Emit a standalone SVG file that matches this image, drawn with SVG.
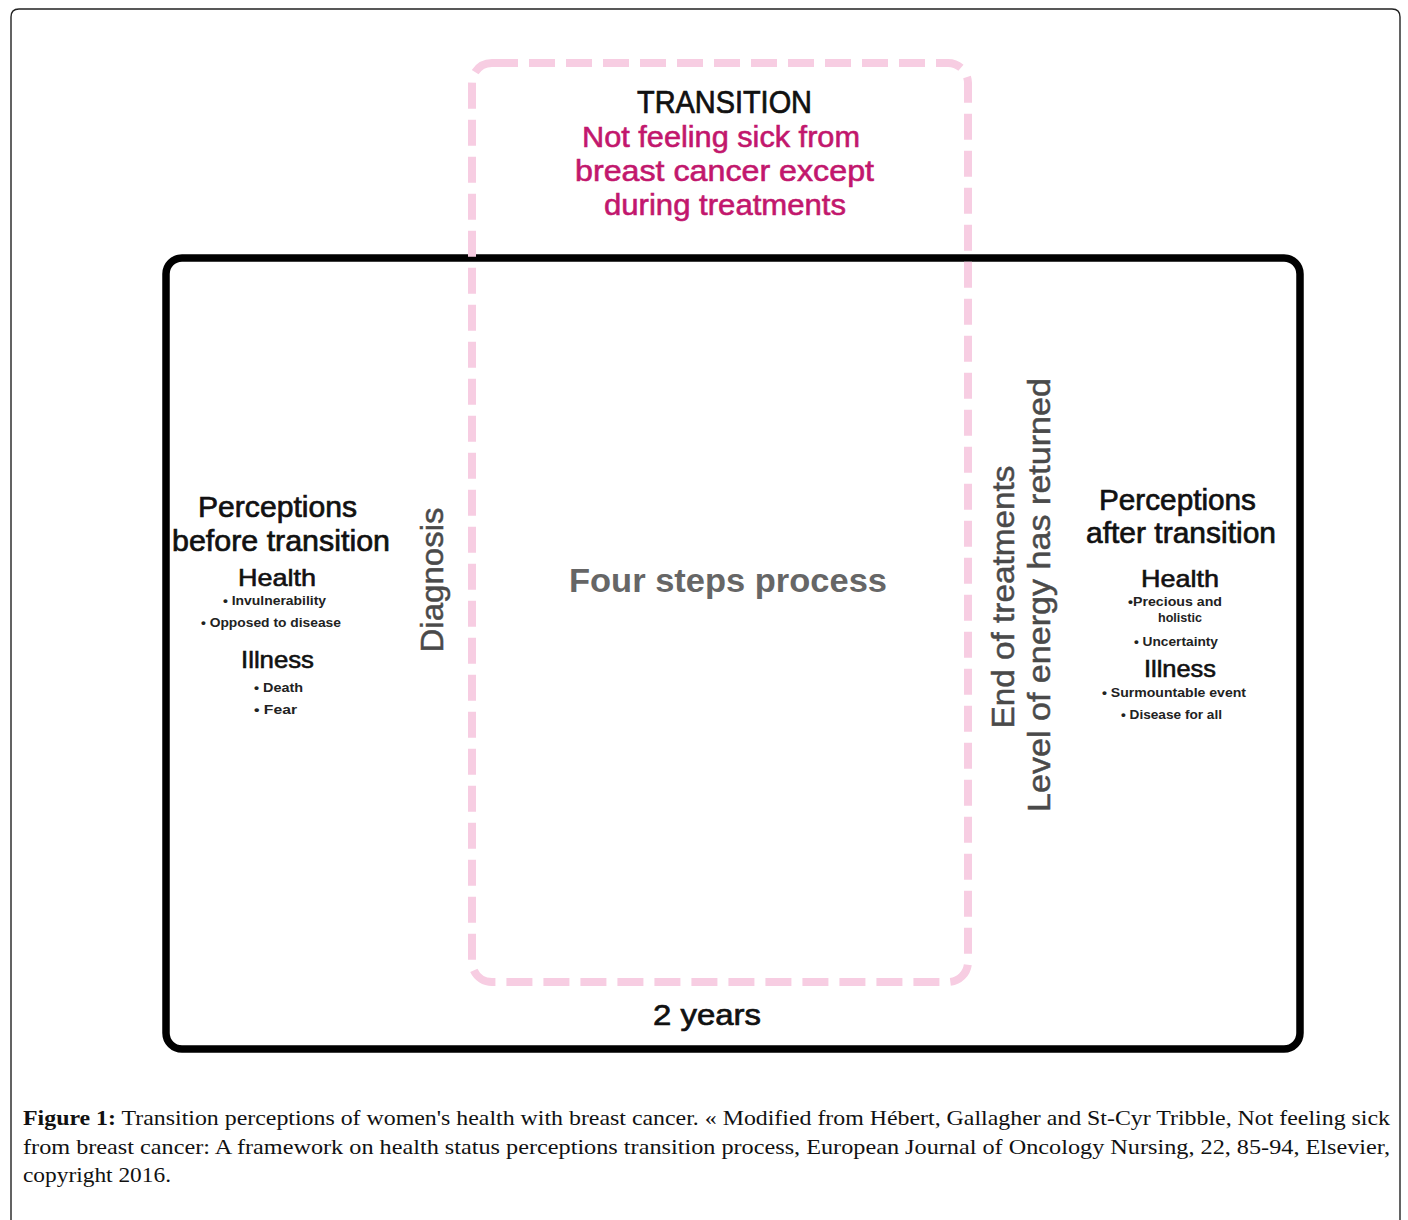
<svg xmlns="http://www.w3.org/2000/svg" width="1408" height="1220" viewBox="0 0 1408 1220">
  <style>
    .sans { font-family: "Liberation Sans", Arial, "DejaVu Sans", sans-serif; }
    .hd { font-size: 30px; fill: #111; stroke: #111; stroke-width: 0.7; text-anchor: middle; }
    .sub { font-size: 24px; fill: #111; stroke: #111; stroke-width: 0.6; text-anchor: middle; }
    .item { font-size: 12.5px; font-weight: bold; fill: #222; text-anchor: middle; }
    .pink { font-size: 30px; fill: #c2176d; stroke: #c2176d; stroke-width: 0.6; text-anchor: middle; }
    .vert { font-size: 32px; fill: #4a4a4a; stroke: #4a4a4a; stroke-width: 0.5; text-anchor: middle; }
    .cap { font-family: "Liberation Serif", "Times New Roman", serif; font-size: 21px; fill: #111; }
  </style>

  <rect width="1408" height="1220" fill="#ffffff"/>

  <!-- figure frame, open at the bottom -->
  <path d="M11,1225 V17 Q11,9 19,9 H1392 Q1400,9 1400,17 V1225" fill="none" stroke="#222" stroke-width="1.4"/>

  <!-- overall 2-year period box -->
  <g id="period">
    <rect x="166" y="258" width="1134" height="791" rx="16" fill="none" stroke="#000" stroke-width="7.5"/>
  </g>

  <!-- transition band, drawn above the period box -->
  <g id="transition">
    <rect x="472" y="63" width="496" height="919" rx="20" fill="none" stroke="#f7cde2" stroke-width="8" stroke-dasharray="26 11"/>
    <text class="sans" x="724.5" y="113" font-size="31" fill="#111" stroke="#111" stroke-width="0.7" text-anchor="middle" textLength="175" lengthAdjust="spacingAndGlyphs">TRANSITION</text>
    <text class="sans pink" x="721" y="147" textLength="278" lengthAdjust="spacingAndGlyphs">Not feeling sick from</text>
    <text class="sans pink" x="724.5" y="181" textLength="299" lengthAdjust="spacingAndGlyphs">breast cancer except</text>
    <text class="sans pink" x="725" y="215" textLength="242" lengthAdjust="spacingAndGlyphs">during treatments</text>
  </g>

  <g id="process">
    <text class="sans" x="728" y="592" font-size="34" font-weight="bold" fill="#666" text-anchor="middle" textLength="318" lengthAdjust="spacingAndGlyphs">Four steps process</text>
  </g>

  <g id="diagnosis">
    <text class="sans vert" transform="translate(443,580) rotate(-90)" x="0" y="0" textLength="145" lengthAdjust="spacingAndGlyphs">Diagnosis</text>
  </g>

  <g id="end-of-treatments">
    <text class="sans vert" transform="translate(1014,597) rotate(-90)" x="0" y="0" textLength="263" lengthAdjust="spacingAndGlyphs">End of treatments</text>
    <text class="sans vert" transform="translate(1050,595) rotate(-90)" x="0" y="0" textLength="434" lengthAdjust="spacingAndGlyphs">Level of energy has returned</text>
  </g>

  <g id="before">
    <text class="sans hd" x="277.5" y="517" textLength="159" lengthAdjust="spacingAndGlyphs">Perceptions</text>
    <text class="sans hd" x="281" y="551" textLength="218" lengthAdjust="spacingAndGlyphs">before transition</text>
    <text class="sans sub" x="277" y="586" textLength="78" lengthAdjust="spacingAndGlyphs">Health</text>
    <text class="sans item" x="274.5" y="605" textLength="103" lengthAdjust="spacingAndGlyphs">• Invulnerability</text>
    <text class="sans item" x="271" y="627" textLength="140" lengthAdjust="spacingAndGlyphs">• Opposed to disease</text>
    <text class="sans sub" x="277.5" y="668" textLength="73" lengthAdjust="spacingAndGlyphs">Illness</text>
    <text class="sans item" x="278.5" y="692" textLength="49" lengthAdjust="spacingAndGlyphs">• Death</text>
    <text class="sans item" x="275.5" y="714" textLength="43" lengthAdjust="spacingAndGlyphs">• Fear</text>
  </g>

  <g id="after">
    <text class="sans hd" x="1177.5" y="510" textLength="157" lengthAdjust="spacingAndGlyphs">Perceptions</text>
    <text class="sans hd" x="1181" y="543" textLength="190" lengthAdjust="spacingAndGlyphs">after transition</text>
    <text class="sans sub" x="1180" y="587" textLength="78" lengthAdjust="spacingAndGlyphs">Health</text>
    <text class="sans item" x="1175" y="606" textLength="94" lengthAdjust="spacingAndGlyphs">•Precious and</text>
    <text class="sans item" x="1180" y="622" textLength="44" lengthAdjust="spacingAndGlyphs">holistic</text>
    <text class="sans item" x="1176" y="646" textLength="84" lengthAdjust="spacingAndGlyphs">• Uncertainty</text>
    <text class="sans sub" x="1180" y="677" textLength="72" lengthAdjust="spacingAndGlyphs">Illness</text>
    <text class="sans item" x="1174" y="697" textLength="144" lengthAdjust="spacingAndGlyphs">• Surmountable event</text>
    <text class="sans item" x="1171.5" y="719" textLength="101" lengthAdjust="spacingAndGlyphs">• Disease for all</text>
  </g>

  <g id="duration">
    <text class="sans hd" x="707" y="1025" textLength="108" lengthAdjust="spacingAndGlyphs">2 years</text>
  </g>

  <!-- caption -->
  <g id="caption">
    <text class="cap" x="23" y="1125" textLength="1367" lengthAdjust="spacingAndGlyphs"><tspan font-weight="bold">Figure 1:</tspan> Transition perceptions of women's health with breast cancer. « Modified from Hébert, Gallagher and St-Cyr Tribble, Not feeling sick</text>
    <text class="cap" x="23" y="1154" textLength="1367" lengthAdjust="spacingAndGlyphs">from breast cancer: A framework on health status perceptions transition process, European Journal of Oncology Nursing, 22, 85-94, Elsevier,</text>
    <text class="cap" x="23" y="1182" textLength="148" lengthAdjust="spacingAndGlyphs">copyright 2016.</text>
  </g>
</svg>
